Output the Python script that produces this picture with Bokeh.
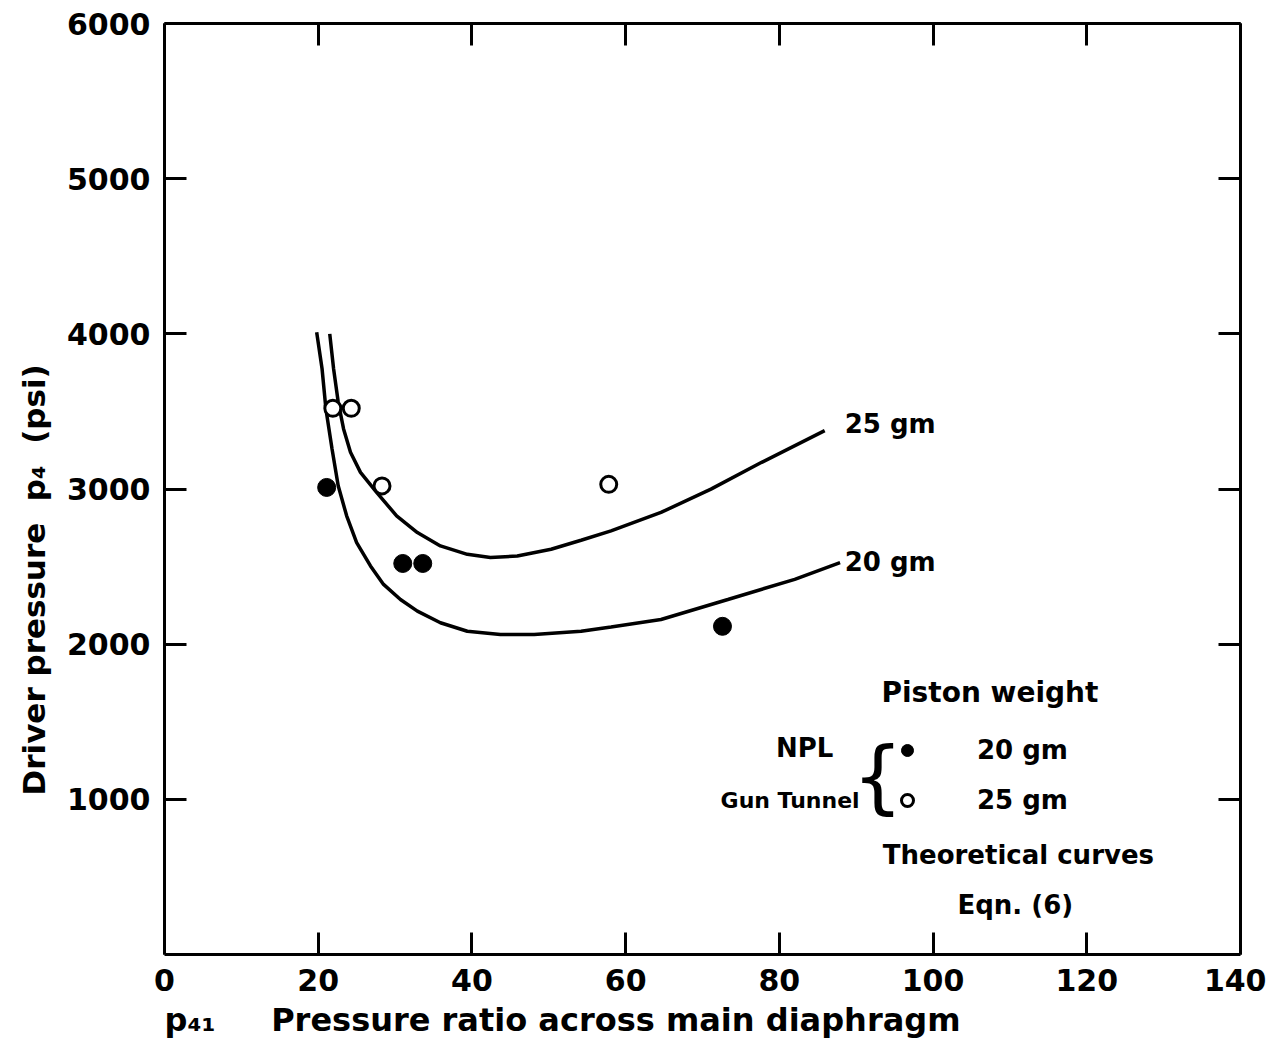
import math
from bokeh.plotting import figure
from bokeh.models import (Range1d, LinearAxis, FixedTicker, CustomJSTickFormatter,
                          Label, Legend, LegendItem, Title)
from bokeh.embed import file_html
from bokeh.resources import INLINE

# ---------------- data ----------------
x_ticks = [0, 20, 40, 60, 80, 100, 120, 140]
y_ticks = [1000, 2000, 3000, 4000, 5000, 6000]

# theoretical curves, Eqn. (6)
curve_20_x = [19.8, 20.5, 21.0, 21.8, 22.6, 23.7, 25.0, 26.8, 28.5, 30.7, 32.9, 35.9,
              39.4, 43.7, 48.1, 54.2, 58.1, 64.6, 73.3, 82.0, 87.9]
curve_20_y = [4010, 3775, 3516, 3258, 3021, 2827, 2655, 2504, 2385, 2288, 2213, 2138,
              2083, 2062, 2062, 2083, 2110, 2159, 2288, 2418, 2525]
curve_25_x = [21.5, 22.0, 22.6, 23.3, 24.2, 25.5, 27.6, 30.2, 32.9, 35.9, 39.4, 42.4,
              45.9, 50.3, 54.2, 58.1, 64.6, 71.1, 77.7, 85.9]
curve_25_y = [4000, 3775, 3560, 3387, 3237, 3107, 2978, 2827, 2719, 2633, 2579, 2558,
              2568, 2612, 2670, 2730, 2849, 2999, 3172, 3376]

# NPL Gun Tunnel measurements
npl_20_x = [21.1, 31.0, 33.6, 72.6]
npl_20_y = [3010, 2520, 2520, 2115]
npl_25_x = [21.9, 24.3, 28.3, 57.8]
npl_25_y = [3520, 3520, 3020, 3030]

FONT = "DejaVu Sans"
NB = "\u00a0"

# ---------------- figure ----------------
p = figure(width=1266, height=1056, output_backend="svg", toolbar_location=None,
           x_range=Range1d(0, 140), y_range=Range1d(0, 6000),
           min_border_left=163, min_border_right=26, min_border_top=23,
           min_border_bottom=102, background_fill_color="white",
           border_fill_color="white")
p.grid.visible = False
p.outline_line_color = None

def style_axis(ax):
    ax.axis_line_width = 3
    ax.axis_line_color = "black"
    ax.major_tick_line_width = 3
    ax.major_tick_line_color = "black"
    ax.major_tick_in = 22
    ax.major_tick_out = 0
    ax.minor_tick_line_color = None
    ax.major_label_text_font = FONT
    ax.major_label_text_font_style = "bold"
    ax.major_label_text_font_size = "30px"
    ax.major_label_text_color = "black"

xa = p.xaxis[0]
xa.ticker = FixedTicker(ticks=x_ticks)
style_axis(xa)
xa.major_label_standoff = 14

ya = p.yaxis[0]
ya.ticker = FixedTicker(ticks=y_ticks)
style_axis(ya)
ya.major_label_standoff = 14
ya.major_label_orientation = "horizontal"

blank = CustomJSTickFormatter(code="return ''")
top = LinearAxis(ticker=FixedTicker(ticks=x_ticks), formatter=blank)
style_axis(top)
top.major_label_standoff = 0
p.add_layout(top, "above")
right = LinearAxis(ticker=FixedTicker(ticks=y_ticks), formatter=blank)
style_axis(right)
right.major_label_standoff = 0
p.add_layout(right, "right")

# axis titles (as side titles so they can be offset like the original)
x_title = Title(text="p\u2084\u2081" + NB * 5 + "Pressure ratio across main diaphragm",
                align="left", offset=0, standoff=10,
                text_font=FONT, text_font_style="bold", text_font_size="32px",
                text_color="black")
p.add_layout(x_title, "below")
y_title = Title(text="Driver pressure" + NB * 2 + "p\u2084" + NB * 2 + "(psi)",
                align="left", offset=159, standoff=26,
                text_font=FONT, text_font_style="bold", text_font_size="31px",
                text_color="black")
p.add_layout(y_title, "left")

# curves
p.line(curve_20_x, curve_20_y, line_color="black", line_width=3.5)
p.line(curve_25_x, curve_25_y, line_color="black", line_width=3.5)

# points
r20 = p.scatter(npl_20_x, npl_20_y, marker="circle", size=18,
                fill_color="black", line_color="black", line_width=1)
r25 = p.scatter(npl_25_x, npl_25_y, marker="circle", size=16,
                fill_color="white", line_color="black", line_width=3)

# legend
legend = Legend(items=[LegendItem(label="20 gm", renderers=[r20]),
                       LegendItem(label="25 gm", renderers=[r25])],
                location=(728, 139), orientation="vertical",
                background_fill_alpha=0, border_line_color=None,
                padding=0, margin=0, spacing=20,
                glyph_width=30, glyph_height=30, label_height=30,
                label_standoff=55,
                label_text_font=FONT, label_text_font_style="bold",
                label_text_font_size="26px", label_text_color="black")
p.add_layout(legend)

def lab(x, y, text, size="26px", align="left", baseline="middle", angle=0.0,
        style="bold"):
    p.add_layout(Label(x=x, y=y, text=text, text_font=FONT,
                       text_font_style=style, text_font_size=size,
                       text_align=align, text_baseline=baseline,
                       angle=angle, text_color="black"))

# curve labels
lab(88.5, 3420, "25 gm")
lab(88.5, 2527, "20 gm")

# legend texts
lab(107.4, 1687, "Piston weight", size="28px", align="center")
lab(83.3, 1332, "NPL", align="center")
lab(81.4, 995, "Gun Tunnel", size="22px", align="center")
lab(92.8, 1144, "{", size="80px", align="center", style="normal")
lab(111.1, 640, "Theoretical curves", align="center")
lab(110.7, 317, "Eqn. (6)", align="center")

open("out.html", "w").write(file_html(p, INLINE))
